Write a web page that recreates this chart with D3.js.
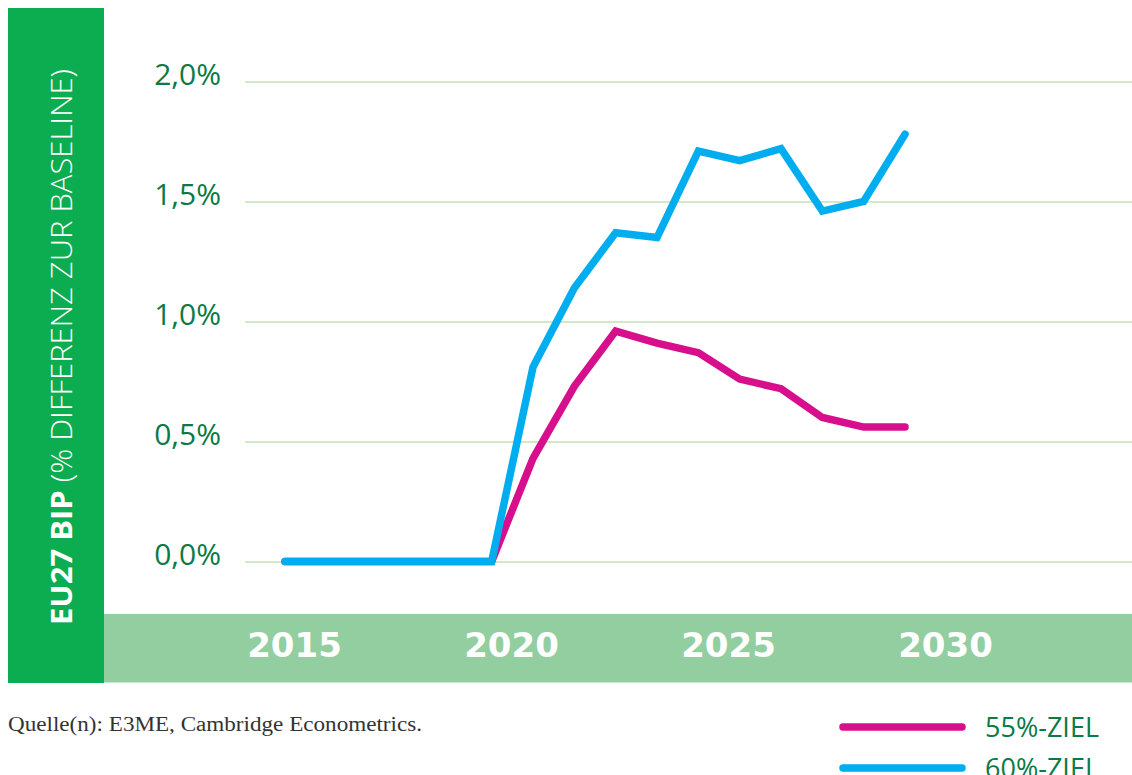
<!DOCTYPE html>
<html>
<head>
<meta charset="utf-8">
<script src="https://cdn.jsdelivr.net/npm/d3@7"></script>
<style>
  html, body { margin: 0; padding: 0; background: #fff; }
  svg { display: block; }
</style>
</head>
<body>
<svg id="chart" width="1132" height="775"></svg>
<script>
// ---- data ----
const years = [2015, 2016, 2017, 2018, 2019, 2020, 2021, 2022, 2023, 2024, 2025, 2026, 2027, 2028, 2029, 2030];
const ziel55 = [0, 0, 0, 0, 0, 0, 0.43, 0.73, 0.96, 0.91, 0.87, 0.76, 0.72, 0.60, 0.56, 0.56];
const ziel60 = [0, 0, 0, 0, 0, 0, 0.81, 1.14, 1.37, 1.35, 1.71, 1.67, 1.72, 1.46, 1.50, 1.78];
const yTicks = [0, 0.5, 1.0, 1.5, 2.0];
const xTickLabels = [2015, 2020, 2025, 2030];
const seriesNames = ["55%-ZIEL", "60%-ZIEL"];
const seriesColors = ["#d70f8c", "#00aeef"];
const yTitleBold = "EU27 BIP";
const yTitleRest = " (% DIFFERENZ ZUR BASELINE)";
const sourceText = "Quelle(n): E3ME, Cambridge Econometrics.";

// ---- layout ----
const W = 1132, H = 775;
const svg = d3.select("#chart");
const darkGreen = "#0b7a45";

const x = d3.scaleLinear().domain([2015, 2030]).range([285, 905]);
const xLab = d3.scaleLinear().domain([2015, 2030]).range([294, 945]);
const y = d3.scaleLinear().domain([0, 2]).range([561.5, 81.5]);

// sidebar
svg.append("rect").attr("x", 8).attr("y", 8).attr("width", 96).attr("height", 675).attr("fill", "#0cad50");
// bottom band
svg.append("rect").attr("x", 104).attr("y", 614).attr("width", W - 104).attr("height", 68.5).attr("fill", "#92cea0");

// y axis with gridlines
const gridLeft = 245;
const yAxis = d3.axisLeft(y)
  .tickValues(yTicks)
  .tickFormat(d => d3.format(".1f")(d).replace(".", ",") + "%")
  .tickSize(-(W - gridLeft))
  .tickPadding(24);
const gy = svg.append("g").attr("transform", `translate(${gridLeft},0)`).call(yAxis);
gy.select(".domain").remove();
gy.selectAll(".tick line").attr("stroke", "#d4e8c2").attr("stroke-width", 2.2);
gy.selectAll(".tick text")
  .attr("fill", darkGreen)
  .attr("font-family", "'Open Sans', sans-serif")
  .attr("font-size", 30)
  .attr("dy", null)
  .attr("y", 2.5)
  .attr("dominant-baseline", "alphabetic");

// x axis labels
const xAxis = d3.axisBottom(xLab).tickValues(xTickLabels).tickFormat(d3.format("d")).tickSize(0).tickPadding(0);
const gx = svg.append("g").attr("transform", "translate(0,657)").call(xAxis);
gx.select(".domain").remove();
gx.selectAll(".tick text")
  .attr("fill", "#ffffff")
  .attr("font-family", "'DejaVu Sans', sans-serif")
  .attr("font-weight", "bold")
  .attr("font-size", 34)
  .attr("dy", null)
  .attr("y", 0)
  .attr("dominant-baseline", "alphabetic");

// lines
const line = d3.line().x((d, i) => x(years[i])).y(d => y(d));
[ziel55, ziel60].forEach((s, k) => {
  svg.append("path")
    .datum(s)
    .attr("d", line)
    .attr("fill", "none")
    .attr("stroke", seriesColors[k])
    .attr("stroke-width", 7.5)
    .attr("stroke-linejoin", "miter")
    .attr("stroke-linecap", "round");
});

// y title (rotated)
const yt = svg.append("text")
  .attr("transform", "translate(72,625) rotate(-90)")
  .attr("fill", "#ffffff")
  .attr("font-family", "'Open Sans', sans-serif")
  .attr("font-size", 29)
  .attr("text-anchor", "start");
yt.append("tspan").attr("font-weight", "bold").text(yTitleBold);
yt.append("tspan").attr("font-weight", 300).text(yTitleRest);
yt.attr("textLength", 556).attr("lengthAdjust", "spacingAndGlyphs");

// source
svg.append("text")
  .attr("x", 8).attr("y", 731)
  .attr("fill", "#333333")
  .attr("font-family", "'Liberation Serif', serif")
  .attr("font-size", 20)
  .attr("textLength", 414)
  .attr("lengthAdjust", "spacingAndGlyphs")
  .text(sourceText);

// legend
const legY = d3.scalePoint().domain(seriesNames).range([727, 768]);
const leg = svg.append("g");
seriesNames.forEach((n, k) => {
  leg.append("line")
    .attr("x1", 843).attr("x2", 962)
    .attr("y1", legY(n)).attr("y2", legY(n))
    .attr("stroke", seriesColors[k])
    .attr("stroke-width", 7.5)
    .attr("stroke-linecap", "round");
  leg.append("text")
    .attr("x", 985).attr("y", legY(n) + 10)
    .attr("fill", darkGreen)
    .attr("font-family", "'Open Sans', sans-serif")
    .attr("font-size", 27)
    .text(n);
});
</script>
</body>
</html>
